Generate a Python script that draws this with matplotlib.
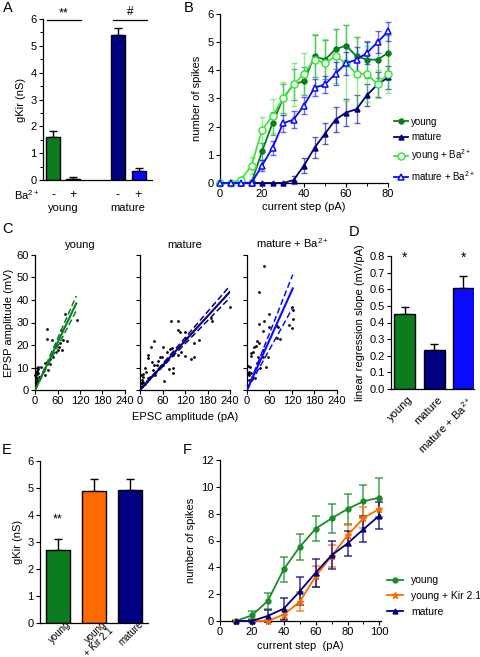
import numpy as np
import matplotlib.pyplot as plt
from matplotlib.ticker import MultipleLocator
import matplotlib.transforms as mtransforms

plt.rcParams['font.family'] = ['Liberation Sans', 'DejaVu Sans']
plt.rcParams['font.size'] = 8
plt.rcParams['axes.linewidth'] = 0.9
plt.rcParams['mathtext.default'] = 'regular'

GREEN = '#0b7d1f'
NAVY = '#000080'
BLUE = '#0a0aff'
LIGHT_GREEN = '#3de63d'
ORANGE = '#ff6a00'

# ---- panel A: gKir with / without Ba2+
a_ticklabels = ['-', '+', '-', '+']
a_means = [1.62, 0.05, 5.40, 0.35]
a_sem = [0.22, 0.08, 0.25, 0.10]
a_groups = ['young', 'mature']

# ---- panel B: spikes vs current step
b_steps = [0, 5, 10, 15, 20, 25, 30, 35, 40, 45, 50, 55, 60, 65, 70, 75, 80]
b_young = [0, 0, 0, 0.02, 1.12, 2.12, 3.0, 3.5, 3.62, 4.5, 4.38, 4.75, 4.88, 4.5, 4.38, 4.38, 4.62]
b_young_err = [0, 0, 0, 0.1, 0.3, 0.4, 0.5, 0.55, 0.5, 0.75, 0.7, 0.72, 0.72, 0.7, 0.65, 0.65, 0.65]
b_mature = [0, 0, 0, 0, 0, 0, 0, 0.1, 0.62, 1.25, 1.75, 2.25, 2.5, 2.62, 3.12, 3.5, 3.75]
b_mature_err = [0, 0, 0, 0, 0, 0, 0, 0.15, 0.28, 0.38, 0.38, 0.45, 0.48, 0.5, 0.4, 0.45, 0.4]
b_young_ba = [0, 0, 0.12, 0.62, 1.88, 2.38, 3.0, 3.5, 3.88, 4.38, 4.25, 4.5, 4.25, 3.88, 3.88, 3.5, 3.88]
b_young_ba_err = [0, 0, 0.1, 0.3, 0.45, 0.6, 0.6, 0.75, 0.75, 0.9, 0.85, 0.95, 1.35, 1.3, 1.0, 0.5, 0.7]
b_mature_ba = [0, 0, 0, 0, 0.62, 1.25, 2.12, 2.25, 2.75, 3.38, 3.5, 3.88, 4.25, 4.38, 4.62, 5.0, 5.38]
b_mature_ba_err = [0, 0, 0, 0, 0.2, 0.25, 0.3, 0.3, 0.3, 0.3, 0.3, 0.4, 0.4, 0.45, 0.4, 0.4, 0.35]

# ---- panel C: EPSP vs EPSC scatter + regressions
c_titles = ['young', 'mature', 'mature + Ba$^{2+}$']
c_young_x = [80, 111, 33, 31, 46, 69, 75, 84, 57, 67, 73, 62, 56, 31, 27, 31, 40, 34, 25, 9,
             15, 4.5, 6, 2.7, 4.5, 5, 9, 2, 3.5, 13, 26, 6, 40, 49, 63, 1, 3, 8, 1.5, 11]
c_young_y = [33.8, 31.1, 27.1, 22.7, 22.2, 26.7, 22.2, 22, 20, 21, 17.8, 18, 17, 12.6, 12, 12,
             11.5, 9, 8.7, 10.4, 10.4, 9.7, 7, 5.9, 4, 5, 7.5, 3.3, 1.8, 5.9, 6.7, 8.4, 14, 14.5,
             19, 6.5, 8, 9.2, 2.5, 6]
c_mature_x = [240, 188, 192, 82, 102, 102, 107, 120, 123, 157, 144, 137, 144, 120, 110, 102, 87,
              80, 84, 71, 60, 38, 29, 22, 20, 31, 53, 49, 58, 62, 76, 89, 87, 65, 35, 13, 16, 9, 7,
              4.4, 2.7, 5, 9, 27, 40, 22, 44, 66, 36, 2, 4, 1.5, 12, 18]
c_mature_y = [36.7, 31.8, 30.8, 30.8, 30.8, 26.7, 26, 25.7, 23.2, 22.4, 20.8, 13.8, 14.6, 15, 17,
              15.4, 15.4, 18.3, 18.7, 17, 19, 22, 19, 15.4, 14.2, 12.4, 14.5, 13, 14.5, 11.1, 9.2,
              9.6, 7.7, 4.1, 8.9, 9.6, 8.1, 7, 5.9, 4.4, 3.3, 3, 3.7, 5.9, 6.7, 5.2, 11.1, 12.6,
              11.1, 6.5, 2, 1.5, 2.5, 4]
c_mba_x = [45, 32, 60, 32, 46, 44, 60, 79, 84, 119, 122, 124, 112, 119, 81, 88, 27, 32, 44, 25,
           20, 17, 11, 11, 44, 55, 30, 50, 35, 4, 8, 6, 11, 2, 6, 21, 13, 5, 26, 3]
c_mba_y = [55, 43.7, 34, 29.3, 30.8, 26.3, 27.8, 28.4, 28, 37, 35.5, 31.5, 28.8, 27.4, 22.9, 22.5,
           22, 21, 18, 19.5, 19, 17, 16.3, 15.1, 14.5, 14.7, 14.5, 10.4, 9.6, 10.7, 10.4, 8.1,
           7.6, 7.6, 6.7, 5.2, 4.9, 4.5, 11.8, 7]
c_slope = [0.35, 0.182, 0.37]
c_slope_lo = [0.32, 0.171, 0.30]
c_slope_hi = [0.38, 0.193, 0.42]
c_xmax = [110, 240, 122]

# ---- panel D: regression slopes
d_labels = ['young', 'mature', 'mature + Ba$^{2+}$']
d_means = [0.45, 0.235, 0.605]
d_sem = [0.045, 0.035, 0.072]

# ---- panel E: gKir with Kir2.1 overexpression
e_labels = ['young', 'young\n+ Kir 2.1', 'mature']
e_means = [2.72, 4.90, 4.93]
e_sem = [0.38, 0.45, 0.42]

# ---- panel F: spikes vs current step
f_steps = [10, 20, 30, 40, 50, 60, 70, 80, 90, 100]
f_young = [0, 0.42, 1.5, 3.86, 5.52, 6.88, 7.65, 8.35, 8.92, 9.2]
f_young_err = [0.1, 0.3, 0.6, 0.92, 0.95, 0.95, 1.1, 1.1, 1.22, 1.47]
f_kir = [0, 0, 0, 0.48, 1.43, 3.33, 4.85, 6.38, 7.68, 8.36]
f_kir_err = [0, 0, 0.05, 0.35, 0.7, 0.8, 0.8, 0.78, 0.78, 0.72]
f_mature = [0, 0, 0.38, 0.92, 2.21, 3.6, 4.9, 5.78, 6.84, 7.86]
f_mature_err = [0, 0.05, 0.45, 0.82, 1.05, 1.05, 1.05, 0.95, 0.95, 1.0]

W, H = 481, 657
fig = plt.figure(figsize=(W / 100, H / 100), dpi=100)


def add_ax(left, top, right, bottom):
    return fig.add_axes([left / W, 1 - bottom / H, (right - left) / W, (bottom - top) / H])


def style(ax):
    for s in ('top', 'right'):
        ax.spines[s].set_visible(False)
    ax.tick_params(direction='out', length=3, width=0.8, labelsize=8, pad=1.5)
    ax.tick_params(which='minor', direction='out', length=2, width=0.7)


def panel_letter(x, y, s):
    fig.text(x / W, 1 - y / H, s, fontsize=10.5, ha='left', va='center')


def bar_panel(ax, pos, means, sem, colors, width):
    ax.bar(pos, means, width=width, color=colors, edgecolor='black', linewidth=1.0, zorder=2)
    ax.errorbar(pos, means, yerr=[np.zeros(len(sem)), sem], fmt='none', ecolor='black',
                elinewidth=1.0, capsize=3, capthick=1.0, zorder=1)


def shift_ticklabels(ax, dx, dy):
    off = mtransforms.ScaledTranslation(dx / 100, dy / 100, fig.dpi_scale_trans)
    for lab in ax.get_xticklabels():
        lab.set_transform(lab.get_transform() + off)


# ================= A
axA = add_ax(43, 19, 152, 180)
style(axA)
a_pos = [0, 1, 3.25, 4.275]
bar_panel(axA, a_pos, a_means, a_sem, [GREEN, GREEN, NAVY, BLUE], 0.7)
axA.set_xlim(-0.5, 4.95)
axA.set_ylim(0, 6)
axA.yaxis.set_major_locator(MultipleLocator(1))
axA.yaxis.set_minor_locator(MultipleLocator(0.5))
axA.set_xticks([])
axA.set_ylabel('gKir (nS)', labelpad=3)
axA.plot([-0.3, 1.4], [5.97, 5.97], color='black', lw=0.9, clip_on=False)
axA.plot([3.0, 4.7], [5.97, 5.97], color='black', lw=0.9, clip_on=False)
axA.text(0.55, 6.0, '**', ha='center', va='bottom', fontsize=9)
axA.text(3.85, 6.02, '#', ha='center', va='bottom', fontsize=8.5)
trA = mtransforms.blended_transform_factory(axA.transData, axA.transAxes)
for p, lab in zip(a_pos, a_ticklabels):
    axA.text(p, -0.093, lab, transform=trA, ha='center', va='center', fontsize=9)
axA.text(-0.03, -0.093, 'Ba$^{2+}$', transform=axA.transAxes, ha='right', va='center')
for p, lab in zip([0.5, 3.76], a_groups):
    axA.text(p, -0.175, lab, transform=trA, ha='center', va='center')
panel_letter(3, 8, 'A')

# ================= B
axB = add_ax(220, 14, 388, 183)
style(axB)
series_b = [
    (b_young, b_young_err, GREEN, 'o', 'full', 'young'),
    (b_mature, b_mature_err, NAVY, '^', 'full', 'mature'),
    (b_young_ba, b_young_ba_err, LIGHT_GREEN, 'o', 'none', 'young + Ba$^{2+}$'),
    (b_mature_ba, b_mature_ba_err, BLUE, '^', 'none', 'mature + Ba$^{2+}$'),
]
handles_b = []
for vals, err, col, mk, fill, lab in series_b:
    axB.errorbar(b_steps, vals, yerr=err, fmt='none', ecolor=col, alpha=0.6,
                 elinewidth=1.0, capsize=2.5, capthick=1.0, clip_on=False)
    ms = 3.5 if fill == 'full' else 5
    line, = axB.plot(b_steps, vals, color=col, marker=mk, ms=ms, lw=1.3,
                     markerfacecolor=(col if fill == 'full' else 'white'),
                     markeredgecolor=col, markeredgewidth=1.1, clip_on=False, zorder=3)
    handles_b.append(line)
axB.set_xlim(0, 80)
axB.set_ylim(0, 6)
axB.xaxis.set_major_locator(MultipleLocator(20))
axB.xaxis.set_minor_locator(MultipleLocator(10))
axB.yaxis.set_major_locator(MultipleLocator(1))
axB.set_xlabel('current step (pA)', labelpad=2)
axB.set_ylabel('number of spikes', labelpad=4)
fig.legend(handles_b, [h[5] for h in series_b], loc='upper left',
           bbox_to_anchor=(389 / W, 1 - 112 / H), frameon=False, borderpad=0,
           handlelength=1.5, handletextpad=0.3, labelspacing=0.55, fontsize=7)
panel_letter(184, 8, 'B')

# ================= C
c_boxes = [(35, 125), (140, 230), (247, 337)]
c_x = [c_young_x, c_mature_x, c_mba_x]
c_y = [c_young_y, c_mature_y, c_mba_y]
c_cols = [GREEN, NAVY, BLUE]
for i, (l, r) in enumerate(c_boxes):
    ax = add_ax(l, 255, r, 390)
    style(ax)
    ax.scatter(c_x[i], c_y[i], s=4, color='black', zorder=2, clip_on=False, linewidths=0)
    xs = np.array([0, c_xmax[i]])
    ax.plot(xs, c_slope[i] * xs, color=c_cols[i], lw=1.5, zorder=3)
    ax.plot(xs, c_slope_lo[i] * xs, color=c_cols[i], lw=1.1, ls=(0, (4, 2)), zorder=3)
    ax.plot(xs, c_slope_hi[i] * xs, color=c_cols[i], lw=1.1, ls=(0, (4, 2)), zorder=3)
    ax.set_xlim(0, 240)
    ax.set_ylim(0, 60)
    ax.set_xticks([0, 60, 120, 180, 240])
    ax.set_yticks([0, 10, 20, 30, 40, 50, 60])
    if i == 0:
        ax.set_ylabel('EPSP amplitude (mV)', labelpad=2)
    else:
        ax.set_yticklabels([])
    if i == 1:
        ax.set_xlabel('EPSC amplitude (pA)', labelpad=4)
    ax.set_title(c_titles[i], fontsize=8, pad=5)
panel_letter(2, 229, 'C')

# ================= D
axD = add_ax(391, 256, 474, 389)
style(axD)
bar_panel(axD, [0, 1, 2], d_means, d_sem, [GREEN, NAVY, BLUE], 0.71)
axD.set_xlim(-0.47, 2.36)
axD.set_ylim(0, 0.8)
axD.yaxis.set_major_locator(MultipleLocator(0.1))
axD.yaxis.set_major_formatter(plt.FormatStrFormatter('%.1f'))
axD.set_xticks([0, 1, 2])
axD.set_xticklabels(d_labels, rotation=45, ha='right', rotation_mode='anchor')
axD.tick_params(axis='x', length=0, pad=4)
shift_ticklabels(axD, 3, 0)
axD.set_ylabel('linear regression slope (mV/pA)', labelpad=3)
for p in (0, 2):
    axD.text(p, 0.79, '*', ha='center', va='center', fontsize=10)
panel_letter(349, 232, 'D')

# ================= E
axE = add_ax(40, 461, 148, 623)
style(axE)
bar_panel(axE, [0, 1, 2], e_means, e_sem, [GREEN, ORANGE, NAVY], 0.66)
axE.set_xlim(-0.49, 2.51)
axE.set_ylim(0, 6)
axE.yaxis.set_major_locator(MultipleLocator(1))
axE.set_xticks([0, 1, 2])
axE.set_xticklabels(e_labels, rotation=45, ha='right', rotation_mode='anchor',
                    multialignment='right', linespacing=0.85, fontsize=7)
axE.tick_params(axis='x', length=0, pad=0)
shift_ticklabels(axE, 8, 4)
axE.set_ylabel('gKir (nS)', labelpad=3)
axE.text(0, 3.85, '**', ha='center', va='center', fontsize=9)
panel_letter(2, 450, 'E')

# ================= F
axF = add_ax(220, 460, 381, 621)
style(axF)
series_f = [
    (f_young, f_young_err, '#1a8a2a', 'o', 3.5, 'young'),
    (f_kir, f_kir_err, ORANGE, '*', 4.5, 'young + Kir 2.1'),
    (f_mature, f_mature_err, NAVY, '^', 3.5, 'mature'),
]
handles_f = []
for vals, err, col, mk, ms, lab in series_f:
    axF.errorbar(f_steps, vals, yerr=err, fmt='none', ecolor=col, alpha=0.8,
                 elinewidth=1.1, capsize=3, capthick=1.1, clip_on=False)
    line, = axF.plot(f_steps, vals, color=col, marker=mk, ms=ms, lw=1.3,
                     clip_on=False, zorder=3)
    handles_f.append(line)
axF.set_xlim(0, 101)
axF.set_ylim(0, 12)
axF.xaxis.set_major_locator(MultipleLocator(20))
axF.xaxis.set_minor_locator(MultipleLocator(10))
axF.yaxis.set_major_locator(MultipleLocator(2))
axF.set_xlabel('current step  (pA)', labelpad=3)
axF.set_ylabel('number of spikes', labelpad=4)
fig.legend(handles_f, [s[5] for s in series_f], loc='upper left',
           bbox_to_anchor=(382 / W, 1 - 570 / H), frameon=False, borderpad=0,
           handlelength=1.5, handletextpad=0.8, labelspacing=0.55, fontsize=7.5)
panel_letter(183, 450, 'F')

fig.savefig('out.png', dpi=100)
